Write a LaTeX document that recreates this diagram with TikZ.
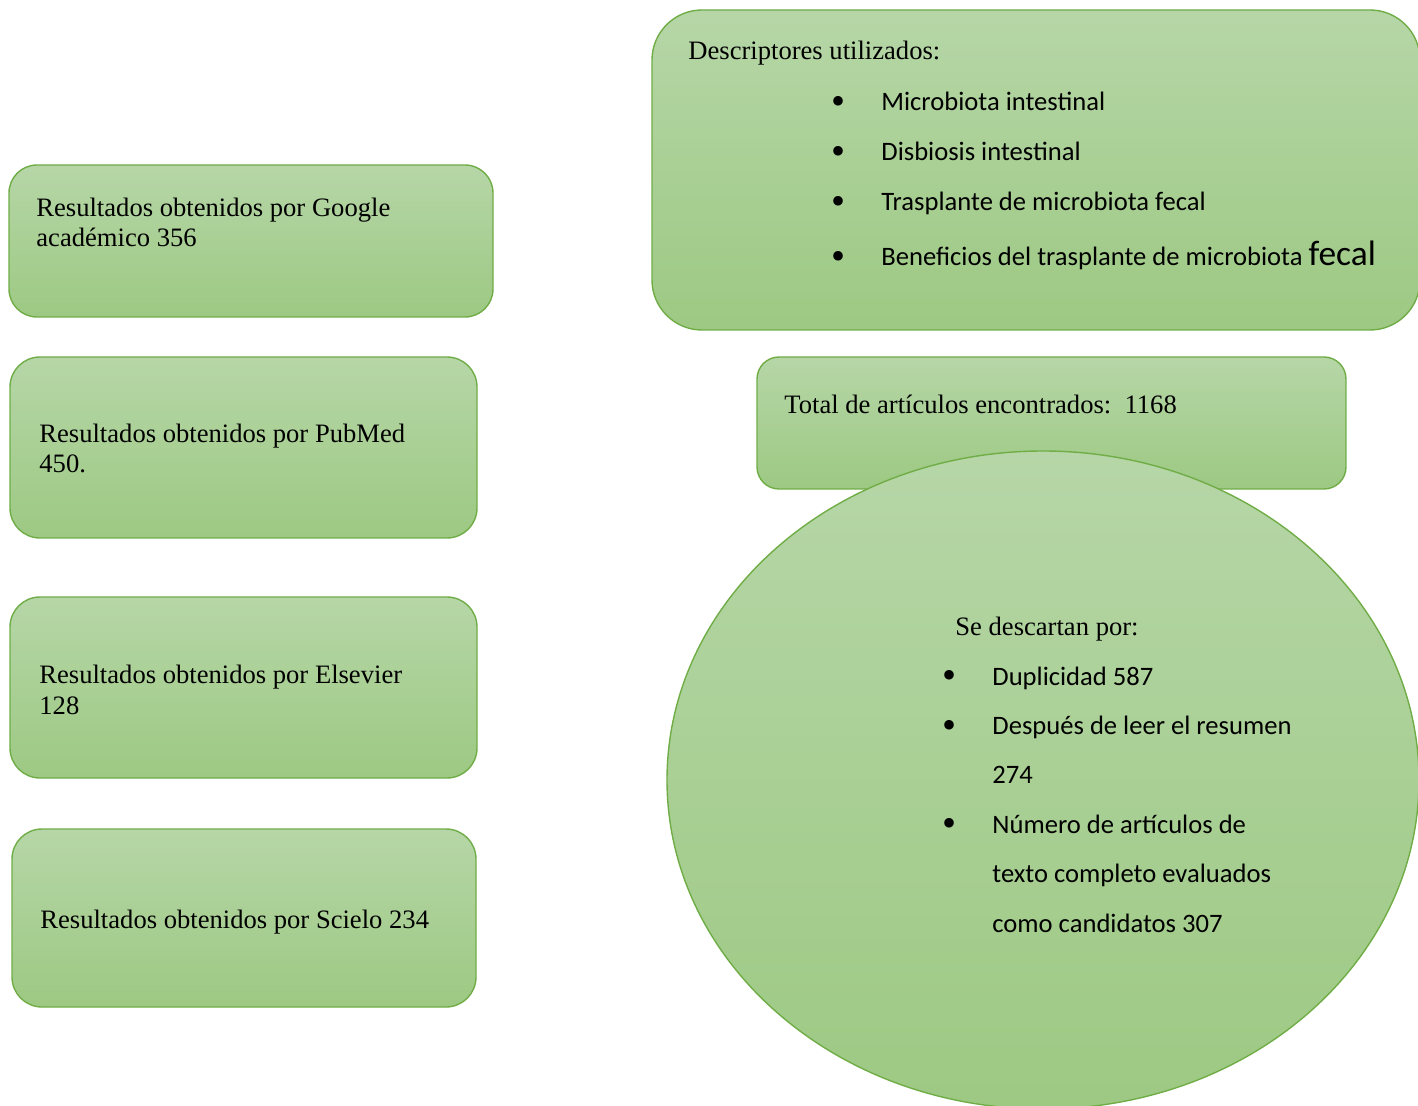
\documentclass[tikz,border=0pt]{standalone}
\usepackage{fontspec}
\setmainfont{Liberation Serif}
\newfontfamily\calibri{Carlito}
\usetikzlibrary{positioning, fit, shapes.geometric}
\definecolor{leaftop}{RGB}{182,214,167}
\definecolor{leafbot}{RGB}{157,201,131}
\definecolor{leafline}{RGB}{112,173,71}
\tikzset{
  gbox/.style={rectangle, rounded corners=#1, draw=leafline, line width=0.7pt,
               top color=leaftop, bottom color=leafbot, inner sep=0pt},
  gbox/.default=14pt,
  goval/.style={ellipse, draw=leafline, line width=0.7pt,
                top color=leaftop, bottom color=leafbot, inner sep=0pt},
  stxt/.style={inner sep=0pt, anchor=base west, align=left,
               font=\fontsize{13.3}{15.4}\selectfont},
  ltxt/.style={inner sep=0pt, anchor=base west, align=left,
               font=\calibri\fontsize{13.3}{#1}\selectfont},
  ltxt/.default=25pt,
}
\newcommand{\blt}{\makebox[25pt][l]{\raisebox{-1.8pt}{\rmfamily\fontsize{20}{0}\selectfont\textbullet}}}

\begin{document}
\begin{tikzpicture}[x=0.5pt, y=-0.5pt]
  \useasboundingbox (0,0) rectangle (1418,1106);

  \node[gbox, fit={(9,165) (493,317)}] (google) {};
  \node[stxt] (googletxt) at (36,247) {Resultados obtenidos por Google\\académico 356};
  \node[gbox=15pt, fit={(10,357) (477,538)}] (pubmed) {};
  \node[stxt] (pubmedtxt) at (39,473) {Resultados obtenidos por PubMed\\450.};
  \node[gbox=15pt, fit={(10,597) (477,778)}] (elsevier) {};
  \node[stxt] (elseviertxt) at (39,714) {Resultados obtenidos por Elsevier\\128};
  \node[gbox=15pt, fit={(12,829) (476,1007)}] (scielo) {};
  \node[stxt] (scielotxt) at (40,928) {Resultados obtenidos por Scielo 234};

  \node[gbox=25pt, fit={(652,10) (1420,330)}] (descr) {};
  \node[stxt] (descrtxt) at (688,60) {Descriptores utilizados:};
  \node[ltxt] (descrlist) at (831,266) {\blt Microbiota intestinal\\
    \blt Disbiosis intestinal\\
    \blt Trasplante de microbiota fecal\\[2.5pt]
    \blt Beneficios del trasplante de microbiota {\fontsize{17.7}{25}\selectfont fecal}};

  \node[gbox=11pt, fit={(757,357) (1346,489)}] (total) {};
  \node[stxt] (totaltxt) at (784,414) {Total de artículos encontrados:\ \ 1168};

  \node[goval, minimum width=376pt, minimum height=329pt] (descarte) at (1043,780) {};
  \node[stxt] (descartetxt) at (955,635) {Se descartan por:};
  \node[ltxt=24.7pt] (descartelist) at (942,932) {\blt Duplicidad 587\\
    \blt Después de leer el resumen\\
    \hspace*{25pt}274\\
    \blt Número de artículos de\\
    \hspace*{25pt}texto completo evaluados\\
    \hspace*{25pt}como candidatos 307};
\end{tikzpicture}
\end{document}
